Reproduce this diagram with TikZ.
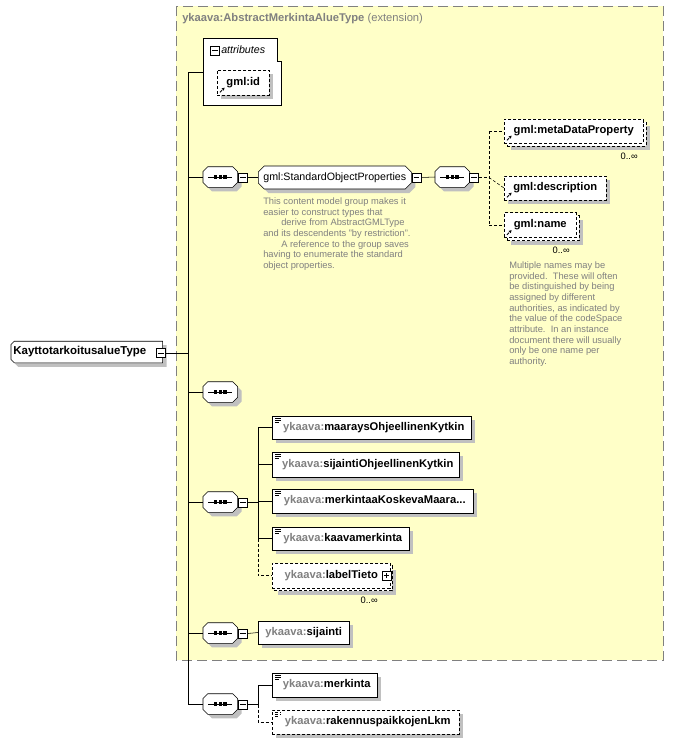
\documentclass[tikz,border=0pt]{standalone}
\usepackage{fontspec}
\setmainfont{Liberation Sans}
\usepackage{xcolor}
\usetikzlibrary{shapes.misc}
\usetikzlibrary{shadows}
\usetikzlibrary{arrows.meta}
\definecolor{extyellow}{RGB}{255,255,200}
\definecolor{shadowgray}{RGB}{192,192,192}
\definecolor{textgray}{RGB}{128,128,128}
\newcommand{\pxu}{0.75pt}
\newcommand{\yk}{\textcolor{textgray}{ykaava:}}
% octagon round a named node: #1 node, #2 chamfer, #3 path options
\newcommand{\octo}[3]{\path[#3] ([xshift=#2]#1.north west) -- ([xshift=-#2]#1.north east)
  -- ([yshift=-#2]#1.north east) -- ([yshift=#2]#1.south east) -- ([xshift=-#2]#1.south east)
  -- ([xshift=#2]#1.south west) -- ([yshift=#2]#1.south west) -- ([yshift=-#2]#1.north west) -- cycle;}
% chamfered on the left only
\newcommand{\lcham}[3]{\path[#3] ([xshift=#2]#1.north west) -- (#1.north east) -- (#1.south east)
  -- ([xshift=#2]#1.south west) -- ([yshift=#2]#1.south west) -- ([yshift=-#2]#1.north west) -- cycle;}
% sequence compositor: #1 name, #2 west point
\newcommand{\seqbox}[2]{%
  \node[seqframe] (#1) at #2 {};
  \octo{#1}{3.6pt}{fill=shadowgray,transform canvas={shift={(3pt,-3pt)}}}
  \octo{#1}{3.6pt}{draw,fill=white}
  \draw ([xshift=-9pt]#1.center) -- ([xshift=9pt]#1.center);
  \foreach \d in {-3.6pt,0pt,3.6pt}
    \fill ([xshift=\d]#1.center) ++(-1.2pt,-1.2pt) rectangle ++(2.4pt,2.4pt);}

\begin{document}
\begin{tikzpicture}[x=0.75pt,y=-0.75pt,
  dropgray/.style={drop shadow={shadow xshift=3pt,shadow yshift=-3pt,fill=shadowgray,opacity=1}},
  elem/.style={draw,fill=white,rectangle,anchor=west,inner sep=0pt,minimum height=24*\pxu,font=\fontsize{8.4}{10}\selectfont\bfseries},
  opt/.style={dash pattern=on 2.25pt off 1.5pt},
  doc/.style={path picture={
    \draw[line width=0.6pt] ([xshift=2.2pt,yshift=-1.8pt]path picture bounding box.north west) -- ++(4.5pt,0pt)
      ([xshift=2.2pt,yshift=-3.3pt]path picture bounding box.north west) -- ++(4.5pt,0pt)
      ([xshift=2.2pt,yshift=-4.8pt]path picture bounding box.north west) -- ++(3pt,0pt);}},
  ref/.style={path picture={
    \draw[line width=0.6pt,-{Triangle[length=2pt,width=2.2pt]}] ([xshift=2pt,yshift=2pt]path picture bounding box.south west) -- ++(3.5pt,3.5pt);}},
  seqframe/.style={rectangle,inner sep=0pt,minimum width=34*\pxu,minimum height=20*\pxu,anchor=west},
  minus/.style={draw,fill=white,rectangle,minimum size=9*\pxu,inner sep=0pt,
    path picture={\draw ([xshift=1.3pt]path picture bounding box.west) -- ([xshift=-1.3pt]path picture bounding box.east);}},
  plus/.style={draw,fill=white,rectangle,minimum size=9*\pxu,inner sep=0pt,
    path picture={\draw ([xshift=1.3pt]path picture bounding box.west) -- ([xshift=-1.3pt]path picture bounding box.east)
      ([yshift=1.3pt]path picture bounding box.south) -- ([yshift=-1.3pt]path picture bounding box.north);}},
  occ/.style={inner sep=0pt,font=\fontsize{7}{8}\selectfont},
  note/.style={align=left,inner sep=0pt,text=textgray,font=\fontsize{7}{8}\selectfont}
]
\useasboundingbox (0,0) rectangle (674,744);

% extension frame
\draw[textgray,fill=extyellow,dash pattern=on 7.5pt off 3.75pt] (176,6) rectangle (663,660);
\node[anchor=west,inner sep=0pt,text=textgray,font=\fontsize{8.4}{10}\selectfont] (ext title) at (182,19)
  {\textbf{ykaava:AbstractMerkintaAlueType} (extension)};

% the type itself
\node[rectangle,inner sep=0pt,minimum width=151*\pxu,minimum height=21*\pxu,anchor=west] (ktype) at (11,352) {};
\lcham{ktype}{2.4pt}{fill=shadowgray,transform canvas={shift={(3pt,-3pt)}}}
\lcham{ktype}{2.4pt}{draw,fill=white}
\node[anchor=west,inner sep=0pt,font=\fontsize{8.6}{10}\selectfont\bfseries] (ktype label) at ([xshift=1.6pt]ktype.west) {KayttotarkoitusalueType};
\node[minus] (ktype minus) at (161,353) {};

% attributes
\draw[fill=white] (203,105) -- (203,38) -- (277,38) -- (277,61) -- (281,61) -- (281,105) -- cycle;
\node[minus] (attr minus) at (215,50.5) {};
\node[anchor=west,inner sep=0pt,font=\fontsize{8}{10}\selectfont\itshape] (attr) at (221,50) {attributes};
\node[elem,opt,ref,dropgray,minimum width=52*\pxu,minimum height=25*\pxu] (gml id) at (217,82.5) {gml:id};
\coordinate (attr w) at (203,72);

% spine
\coordinate (spine top) at (188,72);
\coordinate (spine bot) at (188,704);
\draw (spine top) -- (spine bot);
\draw (spine top) -- (attr w);
\draw (ktype minus.east) -- (ktype minus.east -| spine top);

% standard object properties
\seqbox{seq1}{(203,177)}
\node[minus] (m1) at (243,177.5) {};
\node[draw,fill=white,chamfered rectangle,chamfered rectangle xsep=3*\pxu,chamfered rectangle ysep=3*\pxu,
  inner sep=0pt,minimum width=153*\pxu,minimum height=23*\pxu,anchor=west,dropgray,
  font=\fontsize{8}{10}\selectfont] (sop) at (258,177.5) {gml:StandardObjectProperties\hspace{6pt}};
\node[minus] (m2) at (416.5,177.5) {};
\node[note,anchor=north west] (sop note) at (263,197.5) {This content model group makes it\\
easier to construct types that\\
\hspace*{13.5pt}derive from AbstractGMLType\\
and its descendents "by restriction".\\
\hspace*{13.5pt}A reference to the group saves\\
having to enumerate the standard\\
object properties.};
\seqbox{seq2}{(435,177)}
\node[minus] (m3) at (474,177.5) {};
\coordinate (b2) at (489,177.5);

\node[elem,opt,fill=white,dropgray,minimum width=139*\pxu] (meta back) at (507,134) {};
\node[elem,opt,ref,minimum width=139*\pxu] (meta) at (504,131) {gml:metaDataProperty};
\node[occ,anchor=east] (meta occ) at (638,156) {0..∞};
\node[elem,opt,ref,dropgray,minimum width=102*\pxu] (gml desc) at (504,188) {gml:description};
\node[elem,opt,fill=white,dropgray,minimum width=72*\pxu,minimum height=25*\pxu] (name back) at (507,228) {};
\node[elem,opt,ref,minimum width=72*\pxu,minimum height=25*\pxu] (gml name) at (504,225) {gml:name};
\node[occ,anchor=east] (name occ) at (570,250) {0..∞};
\node[note,anchor=north west] (name note) at (509,261.5) {Multiple names may be\\
provided.\ \ These will often\\
be distinguished by being\\
assigned by different\\
authorities, as indicated by\\
the value of the codeSpace\\
attribute.\ \ In an instance\\
document there will usually\\
only be one name per\\
authority.};

\draw (seq1.west -| spine top) -- (seq1.west);
\draw (m1.east) -- (sop.west);
\draw (m2.east) -- (seq2.west);
\draw[opt] (m3.east) -- (b2);
\draw[opt] (b2 |- meta.west) -- (b2 |- gml name.west);
\draw[opt] (b2 |- meta.west) -- (meta.west);
\draw[opt] (b2) -- (gml desc.west);
\draw[opt] (b2 |- gml name.west) -- (gml name.west);

% empty sequence
\seqbox{seq3}{(203,392)}
\draw (seq3.west -| spine top) -- (seq3.west);

% ykaava elements
\seqbox{seq4}{(203,502)}
\node[minus] (m4) at (243,502.5) {};
\coordinate (b4) at (258,502.5);
\node[elem,doc,dropgray,minimum width=199*\pxu,minimum height=23*\pxu] (e1) at (272,427.5) {\hspace{3pt}\yk maaraysOhjeellinenKytkin};
\node[elem,doc,dropgray,minimum width=187*\pxu,minimum height=25*\pxu] (e2) at (272,464.5) {\hspace{3pt}\yk sijaintiOhjeellinenKytkin};
\node[elem,doc,dropgray,minimum width=201*\pxu] (e3) at (272,501) {\hspace{3pt}\yk merkintaaKoskevaMaara...};
\node[elem,doc,dropgray,minimum width=137*\pxu,minimum height=23*\pxu] (e4) at (272,538.5) {\hspace{3pt}\yk kaavamerkinta};
\node[elem,opt,fill=white,dropgray,minimum width=118*\pxu,minimum height=25*\pxu] (e5 back) at (274,578) {};
\node[elem,opt,minimum width=118*\pxu,minimum height=25*\pxu] (e5) at (272,575.5) {\yk labelTieto\hspace{14pt}};
\node[plus] (e5 plus) at (386.5,575.5) {};
\node[occ,anchor=east] (e5 occ) at (378,600) {0..∞};

\draw (seq4.west -| spine top) -- (seq4.west);
\draw (m4.east) -- (b4);
\draw (b4 |- e1.west) -- (b4 |- e4.west);
\draw[opt] (b4 |- e4.west) -- (b4 |- e5.west) -- (e5.west);
\foreach \e in {e1,e2,e3,e4}
  \draw (b4 |- \e.west) -- (\e.west);

% sijainti
\seqbox{seq5}{(203,633)}
\node[minus] (m5) at (243,633.5) {};
\node[elem,dropgray,minimum width=91*\pxu,minimum height=23*\pxu] (sijainti) at (258,632.5) {\yk sijainti};
\draw (seq5.west -| spine top) -- (seq5.west);
\draw (m5.east) -- (sijainti.west);

% outside the extension
\seqbox{seq6}{(203,704)}
\node[minus] (m6) at (243,704.5) {};
\coordinate (b6) at (258,704.5);
\node[elem,doc,dropgray,minimum width=105*\pxu] (merkinta) at (272,685) {\hspace{3pt}\yk merkinta};
\node[elem,opt,doc,dropgray,minimum width=187*\pxu] (rakennus) at (272,722) {\hspace{3pt}\yk rakennuspaikkojenLkm};
\draw (seq6.west -| spine top) -- (seq6.west);
\draw (m6.east) -- (b6);
\draw (b6 |- merkinta.west) -- (b6) ;
\draw (b6 |- merkinta.west) -- (merkinta.west);
\draw[opt] (b6) -- (b6 |- rakennus.west) -- (rakennus.west);
\end{tikzpicture}
\end{document}
